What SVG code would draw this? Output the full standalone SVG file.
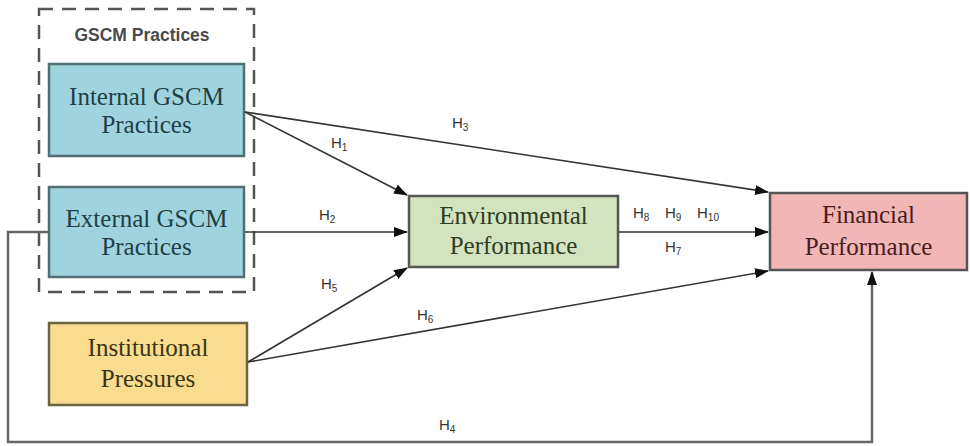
<svg xmlns="http://www.w3.org/2000/svg" width="970" height="446" viewBox="0 0 970 446">
<defs>
<marker id="ah" viewBox="0 0 14 10" refX="13" refY="5" markerWidth="14" markerHeight="10" markerUnits="userSpaceOnUse" orient="auto">
<path d="M0,0 L14,5 L0,10 z" fill="#111"/>
</marker>
</defs>
<style>
.box{stroke-width:2.5}
.lbl{font-family:"Liberation Serif","Times New Roman",serif;font-size:25px;text-anchor:middle}
.h{font-family:"Liberation Sans",Arial,sans-serif;font-size:15px;fill:#333}
.sub{font-size:10px}
.ln{fill:none;stroke:#333;stroke-width:1.6}
</style>
<rect width="970" height="446" fill="#fff"/>
<g id="gscm-group">
<rect x="39" y="9" width="215" height="283" fill="none" stroke="#555" stroke-width="2.5" stroke-dasharray="14,9"/>
<text x="142" y="41" font-family="Liberation Sans,Arial,sans-serif" font-size="17.5" font-weight="bold" fill="#4a4a4a" text-anchor="middle">GSCM Practices</text>
</g>
<g id="internal">
<rect class="box" x="49" y="64" width="195" height="92" fill="#9fd4de" stroke="#4f6f72"/>
<text class="lbl" fill="#1f3f44"><tspan x="146.5" y="105">Internal GSCM</tspan><tspan x="146.5" y="133">Practices</tspan></text>
</g>
<g id="external">
<rect class="box" x="49" y="187" width="195" height="90" fill="#9fd4de" stroke="#4f6f72"/>
<text class="lbl" fill="#1f3f44"><tspan x="146.5" y="227">External GSCM</tspan><tspan x="146.5" y="255">Practices</tspan></text>
</g>
<g id="institutional">
<rect class="box" x="49" y="323" width="198" height="82" fill="#f9dc8e" stroke="#6b6546"/>
<text class="lbl" fill="#3a3416"><tspan x="148" y="356">Institutional</tspan><tspan x="148" y="387">Pressures</tspan></text>
</g>
<g id="environmental">
<rect class="box" x="409" y="196" width="209" height="71" fill="#d4e3bf" stroke="#555"/>
<text class="lbl" fill="#2d3d23"><tspan x="513.5" y="224">Environmental</tspan><tspan x="513.5" y="254">Performance</tspan></text>
</g>
<g id="financial">
<rect class="box" x="770" y="193" width="197" height="77" fill="#f2b6b6" stroke="#555"/>
<text class="lbl" fill="#4a1e1e"><tspan x="868.5" y="223">Financial</tspan><tspan x="868.5" y="255">Performance</tspan></text>
</g>
<g id="connectors">
<path class="ln" d="M245,112 L407,195" marker-end="url(#ah)"/>
<path class="ln" d="M245,112 L768,192" marker-end="url(#ah)"/>
<path class="ln" d="M245,232 L407,232" marker-end="url(#ah)"/>
<path class="ln" d="M619,232 L768,232" marker-end="url(#ah)"/>
<path class="ln" d="M248,362 L407,268" marker-end="url(#ah)"/>
<path class="ln" d="M248,362 L768,271" marker-end="url(#ah)"/>
<path d="M49,232 L8,232 L8,442 L872,442 L872,272" fill="none" stroke="#666" stroke-width="2.5" marker-end="url(#ah)"/>
</g>
<g id="labels">
<text class="h" x="452" y="128">H<tspan class="sub" dy="3">3</tspan></text>
<text class="h" x="331" y="148">H<tspan class="sub" dy="3">1</tspan></text>
<text class="h" x="319" y="220">H<tspan class="sub" dy="3">2</tspan></text>
<text class="h" x="633" y="218">H<tspan class="sub" dy="3">8</tspan></text>
<text class="h" x="665" y="218">H<tspan class="sub" dy="3">9</tspan></text>
<text class="h" x="697" y="218">H<tspan class="sub" dy="3">10</tspan></text>
<text class="h" x="665" y="252">H<tspan class="sub" dy="3">7</tspan></text>
<text class="h" x="321" y="289">H<tspan class="sub" dy="3">5</tspan></text>
<text class="h" x="417" y="320">H<tspan class="sub" dy="3">6</tspan></text>
<text class="h" x="439" y="430">H<tspan class="sub" dy="3">4</tspan></text>
</g>
</svg>
